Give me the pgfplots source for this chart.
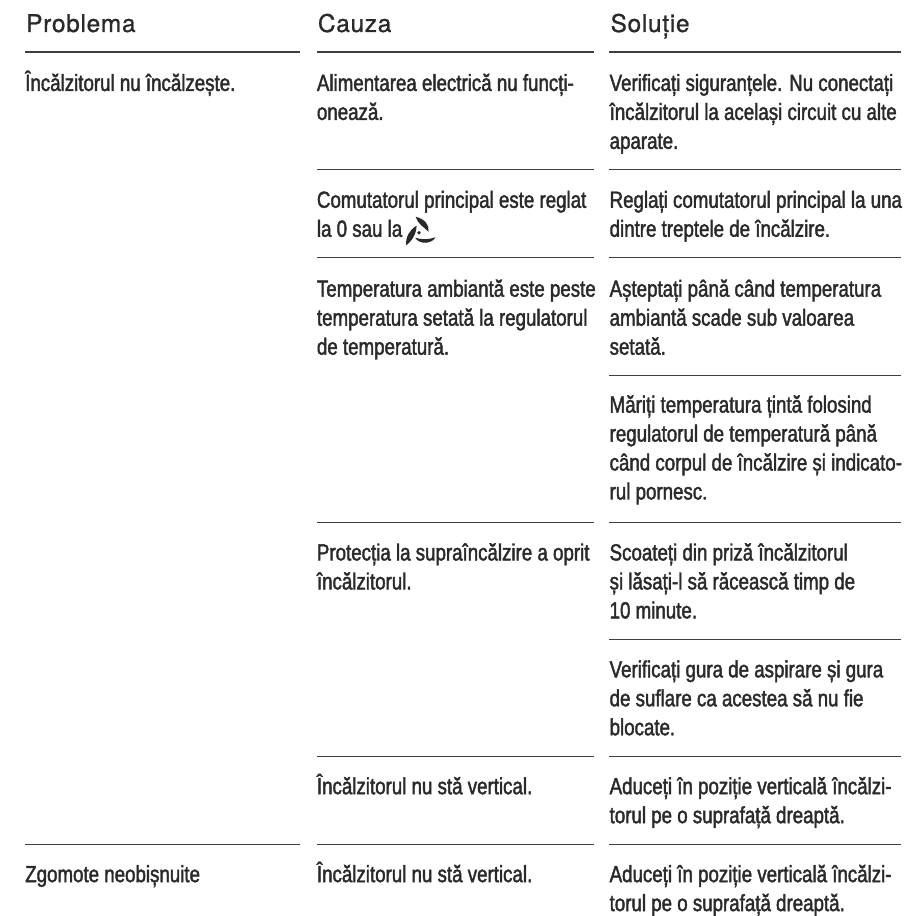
\documentclass[border=0pt]{standalone}
\usepackage{pgfplots}
\pgfplotsset{compat=1.18}
\usepackage{fontspec}
\setmainfont{Liberation Sans}
\newfontfamily\bodyf[FakeStretch=0.803,FakeBold=1.8]{Liberation Sans}
\newfontfamily\headf[FakeBold=1.0,LetterSpace=3]{TeX Gyre Heros}
\definecolor{ink}{HTML}{2B2A29}
\newcommand{\bodytxt}[3]{\node[anchor=base west,inner sep=0pt,text=ink,align=left] at (axis cs:#1,#2) {\bodyf\fontsize{17.5}{22}\selectfont #3};}
\newcommand{\headtxt}[3]{\node[anchor=base west,inner sep=0pt,text=ink] at (axis cs:#1,#2) {\headf\fontsize{18.3}{22}\selectfont #3};}
\newcommand{\rowline}[3]{\addplot[ink!90,line width=0.85pt,forget plot] coordinates {(#1,#3) (#2,#3)};}
\begin{document}
\begin{tikzpicture}
\begin{axis}[hide axis,scale only axis,width=678.75pt,height=687pt,xmin=0,xmax=905,ymin=0,ymax=916,y dir=reverse,clip=false]
\path (axis cs:0,0) (axis cs:905,916);
\rowline{25}{300}{52}
\rowline{317}{595}{52}
\rowline{610}{902}{52}
\rowline{317}{595}{170}
\rowline{610}{902}{170}
\rowline{317}{595}{258}
\rowline{610}{902}{258}
\rowline{610}{902}{376}
\rowline{317}{595}{523}
\rowline{610}{902}{523}
\rowline{610}{902}{640}
\rowline{317}{595}{757}
\rowline{610}{902}{757}
\rowline{25}{300}{845}
\rowline{317}{595}{845}
\rowline{610}{902}{845}
\headtxt{26}{32}{Problema}
\headtxt{318}{32}{Cauza}
\headtxt{611}{32}{Soluție}
\bodytxt{25}{91}{Încălzitorul nu încălzește.}
\bodytxt{317}{91}{Alimentarea electrică nu funcți-}
\bodytxt{317}{120}{onează.}
\bodytxt{610}{91}{Verificați siguranțele. Nu conectați}
\bodytxt{610}{120}{încălzitorul la același circuit cu alte}
\bodytxt{610}{149}{aparate.}
\bodytxt{317}{208}{Comutatorul principal este reglat}
\bodytxt{317}{237}{la 0 sau la}
\bodytxt{610}{208}{Reglați comutatorul principal la una}
\bodytxt{610}{237}{dintre treptele de încălzire.}
\bodytxt{317}{297}{Temperatura ambiantă este peste}
\bodytxt{317}{326}{temperatura setată la regulatorul}
\bodytxt{317}{355}{de temperatură.}
\bodytxt{610}{297}{Așteptați până când temperatura}
\bodytxt{610}{326}{ambiantă scade sub valoarea}
\bodytxt{610}{355}{setată.}
\bodytxt{610}{413}{Măriți temperatura țintă folosind}
\bodytxt{610}{442}{regulatorul de temperatură până}
\bodytxt{610}{471}{când corpul de încălzire și indicato-}
\bodytxt{610}{500}{rul pornesc.}
\bodytxt{317}{561}{Protecția la supraîncălzire a oprit}
\bodytxt{317}{590}{încălzitorul.}
\bodytxt{610}{561}{Scoateți din priză încălzitorul}
\bodytxt{610}{590}{și lăsați-l să răcească timp de}
\bodytxt{610}{619}{10 minute.}
\bodytxt{610}{678}{Verificați gura de aspirare și gura}
\bodytxt{610}{707}{de suflare ca acestea să nu fie}
\bodytxt{610}{736}{blocate.}
\bodytxt{317}{795}{Încălzitorul nu stă vertical.}
\bodytxt{610}{795}{Aduceți în poziție verticală încălzi-}
\bodytxt{610}{824}{torul pe o suprafață dreaptă.}
\bodytxt{25}{883}{Zgomote neobișnuite}
\bodytxt{317}{883}{Încălzitorul nu stă vertical.}
\bodytxt{610}{883}{Aduceți în poziție verticală încălzi-}
\bodytxt{610}{912}{torul pe o suprafață dreaptă.}
\fill[ink] (axis cs:416,217) .. controls (axis cs:425,219) and (axis cs:430,225) .. (axis cs:429,232) .. controls (axis cs:425,228) and (axis cs:418,224) .. cycle;
\fill[ink] (axis cs:406.5,245.5) .. controls (axis cs:406,237) and (axis cs:410,230) .. (axis cs:417,226) .. controls (axis cs:417,233) and (axis cs:413,241) .. cycle;
\fill[ink] (axis cs:415.5,238) .. controls (axis cs:422,240) and (axis cs:429,240) .. (axis cs:436,237.5) .. controls (axis cs:432,244.5) and (axis cs:420,245) .. cycle;
\fill[ink] (axis cs:419.5,233) circle[radius=1.4pt];
\end{axis}
\end{tikzpicture}
\end{document}
